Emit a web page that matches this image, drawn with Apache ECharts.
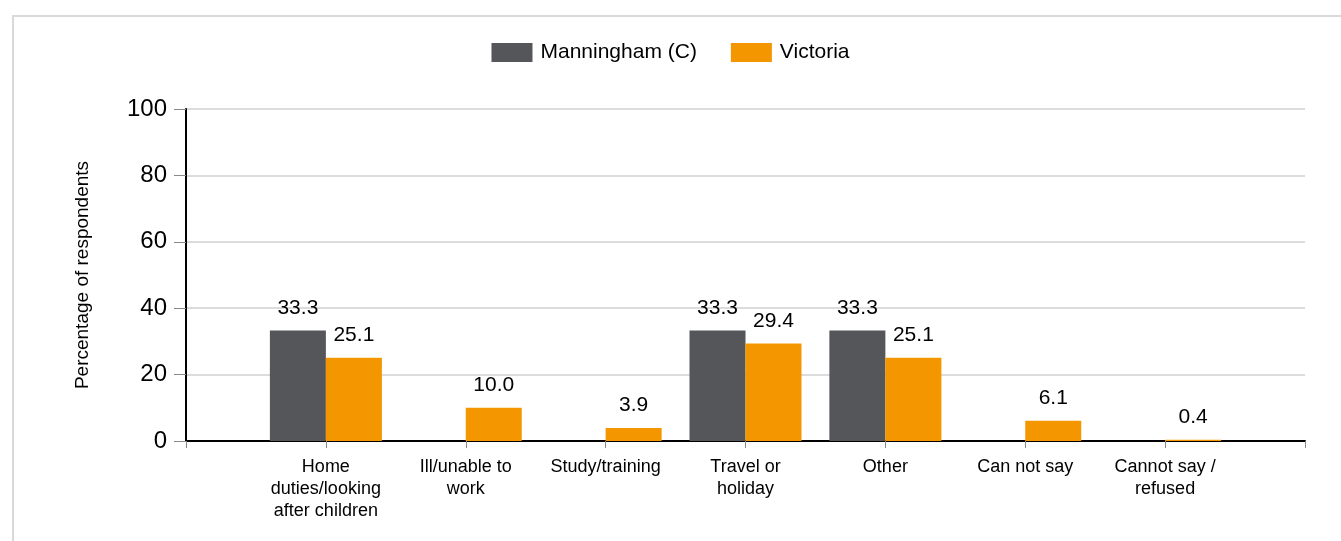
<!DOCTYPE html>
<html>
<head>
<meta charset="utf-8">
<script src="https://cdn.jsdelivr.net/npm/echarts@6/dist/echarts.min.js"></script>
<style>
  html, body { margin: 0; padding: 0; background: #fff; }
  #frame {
    position: absolute; left: 12px; top: 15px; width: 1400px; height: 600px;
    border: 2px solid #d9d9d9; box-sizing: border-box;
  }
  #BarChart { position: absolute; left: 0; top: 0; width: 1341px; height: 541px; }
</style>
</head>
<body>
<div id="frame"></div>
<div id="BarChart"></div>
<script>
// data
const categories = [
  "",
  "Home\nduties/looking\nafter children",
  "Ill/unable to\nwork",
  "Study/training",
  "Travel or\nholiday",
  "Other",
  "Can not say",
  "Cannot say /\nrefused",
  ""
];
const manningham = ["-", 33.3, "-", "-", 33.3, 33.3, "-", "-", "-"];
const victoria = ["-", 25.1, 10.0, 3.9, 29.4, 25.1, 6.1, 0.4, "-"];
const yTicks = [0, 20, 40, 60, 80, 100];

const font = "Liberation Sans, Arial, sans-serif";
const chart = echarts.init(document.getElementById("BarChart"));

const labelCfg = {
  show: true,
  position: "top",
  distance: 12,
  color: "#000",
  fontSize: 21,
  fontFamily: font,
  formatter: (p) => p.value.toFixed(1),
};

chart.setOption({
  animation: false,
  textStyle: { fontFamily: font },
  legend: {
    top: 37,
    left: "center",
    icon: "rect",
    itemWidth: 41,
    itemHeight: 19,
    itemGap: 34,
    textStyle: { fontSize: 21, color: "#000", fontFamily: font, padding: [0, 0, 0, 3] },
    data: ["Manningham (C)", "Victoria"],
  },
  grid: { left: 186, right: 36, top: 109, bottom: 100 },
  xAxis: {
    type: "category",
    data: categories,
    boundaryGap: false,
    axisLine: { lineStyle: { color: "#000", width: 2 } },
    axisTick: { show: true, length: 7, lineStyle: { color: "#888" } },
    axisLabel: {
      interval: 0,
      color: "#000",
      fontSize: 18,
      lineHeight: 22,
      margin: 15,
      fontFamily: font,
    },
    splitLine: { show: false },
  },
  yAxis: {
    type: "value",
    min: yTicks[0],
    max: yTicks[yTicks.length - 1],
    interval: 20,
    name: "Percentage of respondents",
    nameLocation: "middle",
    nameGap: 94,
    nameTextStyle: { fontSize: 19, color: "#000", fontFamily: font },
    axisLine: { show: true, lineStyle: { color: "#000", width: 2 } },
    axisTick: { show: true, length: 12, lineStyle: { color: "#888" } },
    axisLabel: { color: "#000", fontSize: 24, margin: 19, fontFamily: font },
    splitLine: { show: true, lineStyle: { color: "#dcdcdc", width: 2 } },
  },
  series: [
    {
      name: "Manningham (C)",
      type: "bar",
      data: manningham,
      barWidth: 56,
      barGap: "0%",
      itemStyle: { color: "#54565a" },
      label: labelCfg,
    },
    {
      name: "Victoria",
      type: "bar",
      data: victoria,
      barWidth: 56,
      barGap: "0%",
      itemStyle: { color: "#f39600" },
      label: labelCfg,
    },
  ],
});
</script>
</body>
</html>
